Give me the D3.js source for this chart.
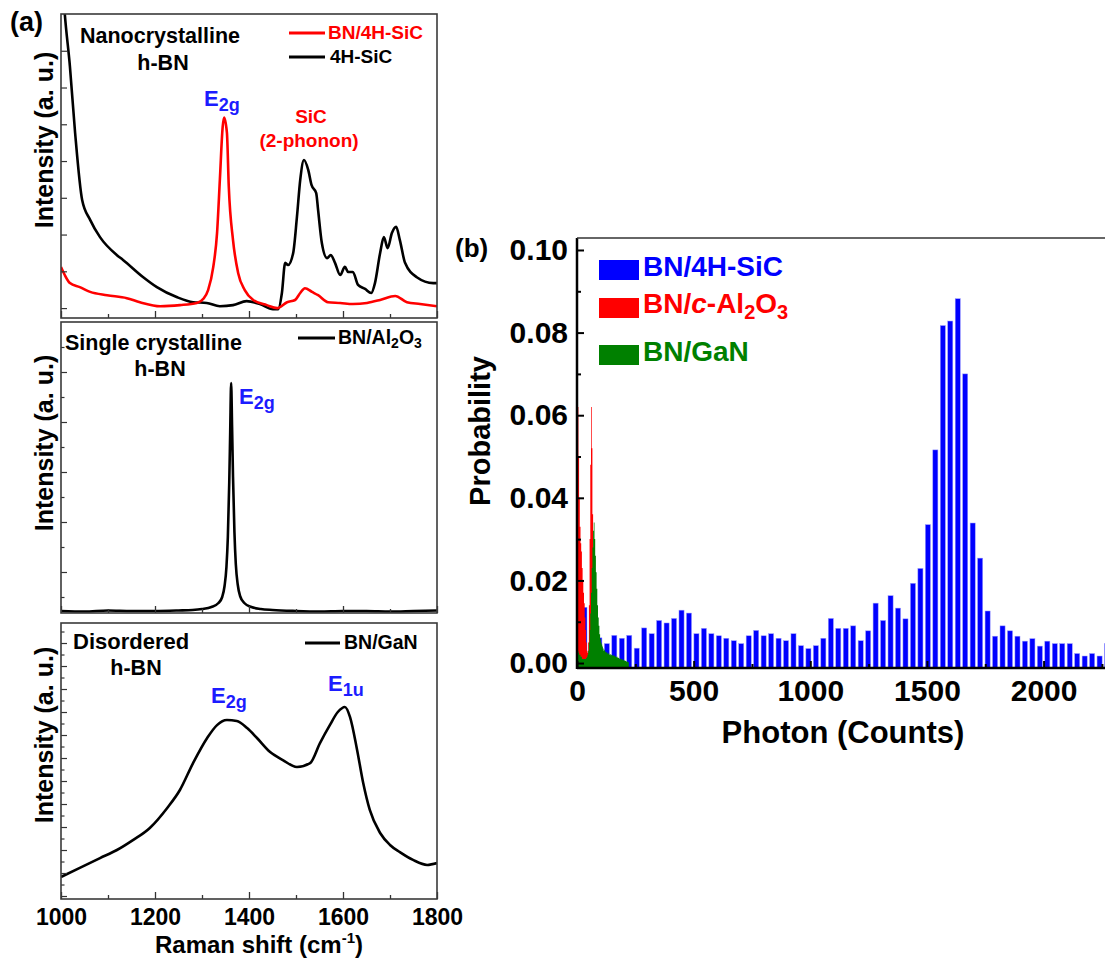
<!DOCTYPE html>
<html><head><meta charset="utf-8">
<script src="https://cdn.jsdelivr.net/npm/d3@7"></script>
<style>
body{margin:0;background:#fff}
text{font-family:"Liberation Sans",Arial,sans-serif;font-weight:bold}
</style>
</head><body>
<svg id="chart" width="1105" height="961"></svg>
<script>
// ---------- Panel (a) data ----------
const ramanTicks = [1000, 1200, 1400, 1600, 1800];
const ramanMinorTicks = [1100, 1300, 1500, 1700];

const sicShift = [1000,1008,1019,1030,1045,1062,1083,1119,1132,1175,1204,1246,1281,1310,1338,1366,1395,1423,1451,1462,1470,1477,1483,1494,1502,1509,1517,1526,1533,1543,1547,1555,1566,1574,1583,1594,1604,1611,1621,1632,1647,1660,1668,1679,1687,1695,1704,1713,1721,1732,1757,1792,1800];
const sicIntensity = [9.5,8.01,6.57,4.77,2.94,2.40,1.93,1.44,1.31,0.84,0.57,0.30,0.16,0.14,0.05,0.08,0.19,0.11,-0.03,-0.03,0.41,1.23,1.17,1.50,2.48,3.49,4.03,3.76,3.35,3.13,2.67,1.77,1.36,1.44,1.23,0.90,1.12,0.98,0.98,0.63,0.52,0.41,0.68,1.50,1.93,1.63,2.04,2.21,1.85,1.23,0.84,0.68,0.68];

const bnSicShift = [1000,1008,1019,1040,1062,1098,1140,1168,1211,1253,1289,1304,1313,1324,1332,1338,1344,1347,1353,1357,1366,1377,1391,1409,1438,1460,1481,1498,1509,1519,1534,1547,1568,1594,1621,1651,1679,1711,1736,1764,1800];
const bnSicIntensity = [1.12,0.90,0.68,0.57,0.44,0.35,0.27,0.16,0.05,0.08,0.14,0.27,0.49,1.12,2.04,3.49,4.93,5.18,4.77,3.30,1.85,0.95,0.49,0.22,0.08,0.00,0.16,0.22,0.41,0.54,0.44,0.35,0.16,0.14,0.11,0.14,0.22,0.33,0.16,0.11,0.05];

const alShift = [1000,1050,1100,1150,1200,1250,1280,1300,1320,1335,1343,1348,1352,1355,1358,1360,1362,1364,1366,1369,1372,1376,1381,1390,1405,1425,1450,1500,1550,1600,1650,1700,1750,1800];
const alIntensity = [0.22,0.21,0.23,0.22,0.22,0.23,0.24,0.26,0.30,0.38,0.50,0.72,1.10,1.70,2.80,3.80,4.78,3.90,2.90,1.80,1.15,0.75,0.52,0.38,0.30,0.26,0.24,0.22,0.21,0.22,0.22,0.21,0.22,0.23];

const ganShift = [1000,1040,1083,1119,1153,1189,1226,1253,1281,1311,1332,1353,1374,1396,1417,1445,1472,1502,1530,1551,1572,1589,1604,1615,1630,1643,1657,1679,1700,1721,1749,1779,1800];
const ganIntensity = [0.83,1.22,1.65,2.00,2.43,2.96,3.83,4.61,5.78,6.87,7.43,7.65,7.61,7.30,6.87,6.26,5.91,5.61,5.78,6.65,7.43,8.00,8.22,7.78,6.35,4.91,3.74,2.74,2.22,1.91,1.57,1.35,1.43];

// ---------- Panel (b) data ----------
const photonTicks = [0, 500, 1000, 1500, 2000];
const photonMinorTicks = [250, 750, 1250, 1750, 2250];
const probTicks = [0, 0.02, 0.04, 0.06, 0.08, 0.10];
const probMinorTicks = [0.01, 0.03, 0.05, 0.07, 0.09];

const sicBinWidth = 32; // bins centred at i * width, starting with i = 1
const sicProb = [0.0135,0.0050,0.0061,0.0047,0.0067,0.0060,0.0067,0.0036,0.0085,0.0071,0.0103,0.0097,0.0108,0.0128,0.0121,0.0071,0.0084,0.0071,0.0066,0.0060,0.0054,0.0047,0.0066,0.0079,0.0066,0.0071,0.0060,0.0054,0.0071,0.0042,0.0035,0.0042,0.0060,0.0108,0.0084,0.0084,0.0090,0.0054,0.0078,0.0145,0.0103,0.0163,0.0133,0.0107,0.0193,0.0229,0.0335,0.0516,0.0817,0.0828,0.0882,0.0700,0.0339,0.0254,0.0126,0.0065,0.0090,0.0078,0.0065,0.0053,0.0059,0.0041,0.0053,0.0047,0.0047,0.0047,0.0023,0.0017,0.0023,0.0017,0.0047,0.0030];

const fineBinWidth = 3; // bins start at i * width
const al2o3Prob = [0.045,0.062,0.050,0.040,0.033,0.029,0.027,0.023,0.020,0.017,0.0145,0.011,0.008,0.005,0.003,0.0025,0.005,0.014,0.030,0.048,0.062,0.052,0.036,0.022,0.012,0.007,0.004,0.002,0.001,0.0005];
const ganProb = [0.002,0.003,0.0025,0.002,0.002,0.0015,0.0015,0.001,0.001,0.001,0.001,0.001,0.001,0.0012,0.0015,0.002,0.003,0.005,0.008,0.012,0.017,0.023,0.028,0.032,0.034,0.030,0.026,0.022,0.018,0.014,0.011,0.009,0.007,0.0058,0.005,0.0045,0.004,0.0035,0.003,0.0032,0.0028,0.0025,0.0027,0.0024,0.0022,0.0025,0.002,0.0022,0.0019,0.002,0.0018,0.002,0.0017,0.0018,0.0015,0.0016,0.0014,0.0015,0.0012,0.0013,0.0011,0.001,0.0011,0.0009,0.0008,0.0009,0.0007,0.0006,0.0006,0.0005,0.0004,0.0004,0.0003,0.0002];

// ---------- Drawing ----------
const svg = d3.select("#chart");
const FONT = '"Liberation Sans", Arial, sans-serif';
const BLUE_TXT = "#1c1cff";
const defs = svg.append("defs");

const xA = d3.scaleLinear().domain([1000, 1800]).range([61, 437]);

const panels = [
  {top: 14, bottom: 318, domain: [-0.27, 8.0], ticks: d3.range(0, 8, 1), minor: [],
   series: [{x: sicShift, y: sicIntensity, color: "#000"}, {x: bnSicShift, y: bnSicIntensity, color: "#ff0000"}],
   labelY: 140},
  {top: 322, bottom: 613, domain: [0.18, 6.0], ticks: [1,2,3,4,5], minor: [0.5,1.5,2.5,3.5,4.5,5.5],
   series: [{x: alShift, y: alIntensity, color: "#000"}], labelY: 443},
  {top: 623, bottom: 899, domain: [-0.13, 11.87], ticks: d3.range(0, 12, 1), minor: d3.range(0.5, 12, 1),
   series: [{x: ganShift, y: ganIntensity, color: "#000"}], labelY: 735}
];

panels.forEach((p, i) => {
  const g = svg.append("g");
  const y = d3.scaleLinear().domain(p.domain).range([p.bottom, p.top]);
  const cid = "clipA" + i;
  defs.append("clipPath").attr("id", cid).append("rect")
    .attr("x", 61).attr("y", p.top).attr("width", 376).attr("height", p.bottom - p.top);
  const line = d3.line().curve(d3.curveMonotoneX);
  const cg = g.append("g").attr("clip-path", `url(#${cid})`);
  p.series.forEach(s => {
    cg.append("path")
      .attr("d", line(s.x.map((v, k) => [xA(v), y(s.y[k])])))
      .attr("fill", "none").attr("stroke", s.color).attr("stroke-width", 2.6)
      .attr("stroke-linejoin", "round");
  });
  const la = g.append("g").attr("transform", "translate(61,0)")
    .call(d3.axisLeft(y).tickValues(p.ticks).tickSize(-6).tickFormat(""));
  la.select(".domain").remove();
  la.selectAll("line").attr("stroke", "#333").attr("stroke-width", 1.2);
  if (p.minor.length) {
    const lm = g.append("g").attr("transform", "translate(61,0)")
      .call(d3.axisLeft(y).tickValues(p.minor).tickSize(-3.5).tickFormat(""));
    lm.select(".domain").remove();
    lm.selectAll("line").attr("stroke", "#333").attr("stroke-width", 1.2);
  }
  const isLast = i === panels.length - 1;
  const ba = g.append("g").attr("transform", `translate(0,${p.bottom})`)
    .call(d3.axisBottom(xA).tickValues(ramanTicks).tickSize(-7).tickPadding(10)
      .tickFormat(isLast ? d3.format("d") : ""));
  ba.select(".domain").remove();
  ba.selectAll("line").attr("stroke", "#333").attr("stroke-width", 1.3);
  ba.selectAll("text").attr("font-size", 23).attr("font-family", FONT).attr("font-weight", "bold").attr("fill", "#000");
  const bm = g.append("g").attr("transform", `translate(0,${p.bottom})`)
    .call(d3.axisBottom(xA).tickValues(ramanMinorTicks).tickSize(-4).tickFormat(""));
  bm.select(".domain").remove();
  bm.selectAll("line").attr("stroke", "#333").attr("stroke-width", 1.3);
  g.append("rect").attr("x", 61).attr("y", p.top).attr("width", 376).attr("height", p.bottom - p.top)
    .attr("fill", "none").attr("stroke", "#3a3a3a").attr("stroke-width", 1.6);
  g.append("text").attr("transform", `translate(53,${p.labelY}) rotate(-90)`)
    .attr("text-anchor", "middle").attr("font-size", 25).text("Intensity (a. u.)");
});

const xt = svg.append("text").attr("x", 259).attr("y", 953).attr("text-anchor", "middle").attr("font-size", 24);
xt.append("tspan").text("Raman shift (cm");
xt.append("tspan").attr("font-size", 15).attr("dy", -10).text("-1");
xt.append("tspan").attr("dy", 10).text(")");

function txt(x, y, s, size, color, anchor) {
  return svg.append("text").attr("x", x).attr("y", y).attr("font-size", size)
    .attr("fill", color || "#000").attr("text-anchor", anchor || "start").text(s);
}
function sub(x, y, main, subs, size, subSize, color) {
  const t = svg.append("text").attr("x", x).attr("y", y).attr("font-size", size).attr("fill", color);
  t.append("tspan").text(main);
  t.append("tspan").attr("font-size", subSize).attr("dy", 5).text(subs);
  return t;
}
txt(10, 31, "(a)", 27);
txt(160, 43, "Nanocrystalline", 21.5, "#000", "middle");
txt(163, 70, "h-BN", 21.5, "#000", "middle");
svg.append("line").attr("x1", 289).attr("x2", 325).attr("y1", 33).attr("y2", 33).attr("stroke", "#ff0000").attr("stroke-width", 2.8);
txt(328, 39, "BN/4H-SiC", 19, "#ff0000");
svg.append("line").attr("x1", 289).attr("x2", 325).attr("y1", 57).attr("y2", 57).attr("stroke", "#000").attr("stroke-width", 2.8);
txt(330, 63, "4H-SiC", 19, "#000");
sub(204, 106, "E", "2g", 22, 18, BLUE_TXT);
txt(311, 123, "SiC", 19, "#ff0000", "middle");
txt(309, 147, "(2-phonon)", 19, "#ff0000", "middle");

txt(65, 350, "Single crystalline", 21.5);
txt(160, 376, "h-BN", 21.5, "#000", "middle");
svg.append("line").attr("x1", 298).attr("x2", 335).attr("y1", 338).attr("y2", 338).attr("stroke", "#000").attr("stroke-width", 2.8);
{
  const t = svg.append("text").attr("x", 338).attr("y", 344).attr("font-size", 19.5);
  t.append("tspan").text("BN/Al");
  t.append("tspan").attr("font-size", 14).attr("dy", 4).text("2");
  t.append("tspan").attr("dy", -4).text("O");
  t.append("tspan").attr("font-size", 14).attr("dy", 4).text("3");
}
sub(239, 404, "E", "2g", 22, 18, BLUE_TXT);

txt(73, 649, "Disordered", 22);
txt(136, 675, "h-BN", 21.5, "#000", "middle");
svg.append("line").attr("x1", 305).attr("x2", 340).attr("y1", 643).attr("y2", 643).attr("stroke", "#000").attr("stroke-width", 2.8);
txt(344, 649, "BN/GaN", 19.5);
sub(211, 703, "E", "2g", 22, 18, BLUE_TXT);
sub(328, 691, "E", "1u", 22, 18, BLUE_TXT);

// ---------- Panel (b) ----------
const xB = d3.scaleLinear().domain([0, 2500]).range([577, 577 + 2500 * 0.2333]);
const yB = d3.scaleLinear().domain([-0.0012, 0.1029]).range([668, 238]);
const gb = svg.append("g");
defs.append("clipPath").attr("id", "clipB").append("rect").attr("x", 577).attr("y", 238).attr("width", 600).attr("height", 430);
const cb = gb.append("g").attr("clip-path", "url(#clipB)");
const base = yB.range()[0];
const barW = sicBinWidth * 0.68;
cb.selectAll("rect.sic").data(sicProb).join("rect").attr("class", "sic")
  .attr("x", (d, i) => xB((i + 1) * sicBinWidth - barW / 2))
  .attr("width", xB(barW) - xB(0))
  .attr("y", d => yB(d)).attr("height", d => base - yB(d))
  .attr("fill", "#0000ff").attr("stroke", "#9a9aff").attr("stroke-width", 0.5);

function stepArea(vals, color) {
  const pts = vals.map((v, i) => [i * fineBinWidth, v]);
  pts.push([vals.length * fineBinWidth, 0]);
  const area = d3.area().curve(d3.curveStepAfter)
    .x(d => xB(d[0])).y0(base).y1(d => yB(d[1]));
  cb.append("path").attr("d", area(pts)).attr("fill", color);
}
stepArea(al2o3Prob, "#ff0000");
stepArea(ganProb, "#008000");

const axB = gb.append("g").attr("transform", "translate(0,668)")
  .call(d3.axisBottom(xB).tickValues(photonTicks).tickSize(-7).tickPadding(12).tickFormat(d3.format("d")));
axB.select(".domain").remove();
axB.selectAll("line").attr("stroke", "#000").attr("stroke-width", 2);
axB.selectAll("text").attr("font-size", 30).attr("font-family", FONT).attr("font-weight", "bold").attr("fill", "#000");
const axBm = gb.append("g").attr("transform", "translate(0,668)")
  .call(d3.axisBottom(xB).tickValues(photonMinorTicks).tickSize(-4).tickFormat(""));
axBm.select(".domain").remove();
axBm.selectAll("line").attr("stroke", "#000").attr("stroke-width", 2);

const ayB = gb.append("g").attr("transform", "translate(577,0)")
  .call(d3.axisLeft(yB).tickValues(probTicks).tickSize(-7).tickPadding(9).tickFormat(d3.format(".2f")));
ayB.select(".domain").remove();
ayB.selectAll("line").attr("stroke", "#000").attr("stroke-width", 2);
ayB.selectAll("text").attr("font-size", 30).attr("font-family", FONT).attr("font-weight", "bold").attr("fill", "#000");
const ayBm = gb.append("g").attr("transform", "translate(577,0)")
  .call(d3.axisLeft(yB).tickValues(probMinorTicks).tickSize(-4).tickFormat(""));
ayBm.select(".domain").remove();
ayBm.selectAll("line").attr("stroke", "#000").attr("stroke-width", 2);

gb.append("line").attr("x1", 577).attr("x2", 1105).attr("y1", 668).attr("y2", 668).attr("stroke", "#000").attr("stroke-width", 2.5);
gb.append("line").attr("x1", 577).attr("x2", 577).attr("y1", 238).attr("y2", 669).attr("stroke", "#000").attr("stroke-width", 2.5);
gb.append("line").attr("x1", 577).attr("x2", 1105).attr("y1", 238).attr("y2", 238).attr("stroke", "#333").attr("stroke-width", 1.6);

txt(843, 743, "Photon (Counts)", 31, "#000", "middle");
svg.append("text").attr("transform", "translate(490,431) rotate(-90)").attr("text-anchor", "middle")
  .attr("font-size", 29).text("Probability");
txt(455, 257, "(b)", 26);

const legB = [
  {y: 260, color: "#0000ff"},
  {y: 298, color: "#ff0000"},
  {y: 345, color: "#008000"}
];
legB.forEach(l => gb.append("rect").attr("x", 599).attr("y", l.y).attr("width", 40).attr("height", 20).attr("fill", l.color));
txt(643, 276, "BN/4H-SiC", 28, "#0000ff");
{
  const t = svg.append("text").attr("x", 643).attr("y", 313).attr("font-size", 28).attr("fill", "#ff0000");
  t.append("tspan").text("BN/");
  t.append("tspan").attr("font-style", "italic").text("c");
  t.append("tspan").text("-Al");
  t.append("tspan").attr("font-size", 20).attr("dy", 6).text("2");
  t.append("tspan").attr("dy", -6).text("O");
  t.append("tspan").attr("font-size", 20).attr("dy", 6).text("3");
}
txt(643, 361, "BN/GaN", 28, "#008000");
</script>
</body></html>
